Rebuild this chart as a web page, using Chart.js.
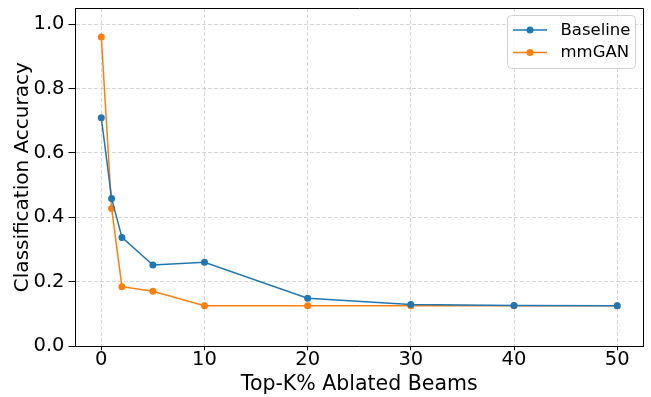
<!DOCTYPE html>
<html>
<head>
<meta charset="utf-8">
<script src="https://cdn.jsdelivr.net/npm/chart.js@4/dist/chart.umd.min.js"></script>
<style>
  html, body { margin: 0; padding: 0; background: #fff; }
  #wrap { width: 651px; height: 397px; position: relative; }
</style>
</head>
<body>
<div id="wrap"><canvas id="c" width="651" height="397"></canvas></div>
<script>
const topK = [0, 1, 2, 5, 10, 20, 30, 40, 50];
const baseline = [0.709, 0.459, 0.338, 0.252, 0.261, 0.149, 0.130, 0.127, 0.126];
const mmGAN = [0.960, 0.428, 0.185, 0.171, 0.126, 0.126, 0.126, 0.126, 0.126];
const xTicks = [0, 10, 20, 30, 40, 50];
const yTicks = [0.0, 0.2, 0.4, 0.6, 0.8, 1.0];
const seriesNames = ['Baseline', 'mmGAN'];
const seriesColors = ['#1f77b4', '#ff7f0e'];

const FONT = "'DejaVu Sans', sans-serif";

function pts(ys) { return topK.map((x, i) => ({x: x, y: ys[i]})); }

const legendPlugin = {
  id: 'mplLegend',
  afterDraw(chart) {
    const ctx = chart.ctx;
    const ca = chart.chartArea;
    // spines top/right
    ctx.save();
    ctx.strokeStyle = '#000';
    ctx.lineWidth = 1;
    ctx.beginPath();
    ctx.moveTo(ca.left, ca.top + 0.5);
    ctx.lineTo(ca.right + 0.5, ca.top + 0.5);
    ctx.lineTo(ca.right + 0.5, ca.bottom);
    ctx.stroke();
    // legend box
    const bx = 507.5, by = 15.5, bw = 128, bh = 53, r = 4;
    ctx.fillStyle = 'rgba(255,255,255,0.8)';
    ctx.strokeStyle = '#d0d0d0';
    ctx.lineWidth = 1;
    ctx.beginPath();
    ctx.moveTo(bx + r, by);
    ctx.lineTo(bx + bw - r, by);
    ctx.arcTo(bx + bw, by, bx + bw, by + r, r);
    ctx.lineTo(bx + bw, by + bh - r);
    ctx.arcTo(bx + bw, by + bh, bx + bw - r, by + bh, r);
    ctx.lineTo(bx + r, by + bh);
    ctx.arcTo(bx, by + bh, bx, by + bh - r, r);
    ctx.lineTo(bx, by + r);
    ctx.arcTo(bx, by, bx + r, by, r);
    ctx.closePath();
    ctx.fill();
    ctx.stroke();
    const rows = [30, 52.5];
    seriesNames.forEach((name, i) => {
      const y = rows[i];
      ctx.strokeStyle = seriesColors[i];
      ctx.lineWidth = 1.5;
      ctx.beginPath();
      ctx.moveTo(513, y);
      ctx.lineTo(547, y);
      ctx.stroke();
      ctx.fillStyle = seriesColors[i];
      ctx.beginPath();
      ctx.arc(530, y, 3.5, 0, Math.PI * 2);
      ctx.fill();
      ctx.fillStyle = '#000';
      ctx.font = "16.5px " + FONT;
      ctx.textAlign = 'left';
      ctx.textBaseline = 'middle';
      ctx.fillText(name, 560.5, y + 0.5);
    });
    ctx.restore();
  }
};

const gridColor = 'rgba(176,176,176,0.5)';

new Chart(document.getElementById('c'), {
  type: 'line',
  data: {
    datasets: [
      {
        label: seriesNames[0], data: pts(baseline),
        borderColor: seriesColors[0], backgroundColor: seriesColors[0],
        borderWidth: 1.5, pointRadius: 3.5, pointHoverRadius: 3.5,
        pointBorderWidth: 0, tension: 0, fill: false
      },
      {
        label: seriesNames[1], data: pts(mmGAN),
        borderColor: seriesColors[1], backgroundColor: seriesColors[1],
        borderWidth: 1.5, pointRadius: 3.5, pointHoverRadius: 3.5,
        pointBorderWidth: 0, tension: 0, fill: false
      }
    ]
  },
  options: {
    responsive: false,
    animation: false,
    devicePixelRatio: 1,
    layout: { padding: { top: 8, right: 8, left: 0, bottom: 0 } },
    plugins: { legend: { display: false }, tooltip: { enabled: false } },
    scales: {
      x: {
        type: 'linear', min: -2.5, max: 52.5,
        afterBuildTicks(s) { s.ticks = xTicks.map(v => ({value: v})); },
        afterFit(s) { s.height = 50.7; s.paddingLeft = 0; s.paddingRight = 0; },
        ticks: { font: { family: FONT, size: 19.5 }, color: '#000', padding: -2, maxRotation: 0,
                 callback: v => String(v) },
        grid: { color: gridColor, lineWidth: 1, tickLength: 4, tickColor: '#000', tickWidth: 1, tickBorderDash: [] },
        border: { display: true, color: '#000', width: 1, dash: [4, 2] },
        title: { display: true, text: 'Top-K% Ablated Beams', color: '#000',
                 font: { family: FONT, size: 20.5 }, padding: { top: 0, bottom: 0 } }
      },
      y: {
        type: 'linear', min: 0, max: 1.05,
        afterBuildTicks(s) { s.ticks = yTicks.map(v => ({value: v})); },
        afterFit(s) { s.width = 75.5; s.paddingTop = 0; s.paddingBottom = 0; },
        ticks: { font: { family: FONT, size: 19.5 }, color: '#000', padding: 4,
                 callback: v => Number(v).toFixed(1) },
        grid: { color: gridColor, lineWidth: 1, tickLength: 7, tickColor: '#000', tickWidth: 1, tickBorderDash: [] },
        border: { display: true, color: '#000', width: 1, dash: [4, 2] },
        title: { display: true, text: 'Classification Accuracy', color: '#000',
                 font: { family: FONT, size: 20 }, padding: { top: 10.5, bottom: 0 } }
      }
    }
  },
  plugins: [legendPlugin]
});
</script>
</body>
</html>
